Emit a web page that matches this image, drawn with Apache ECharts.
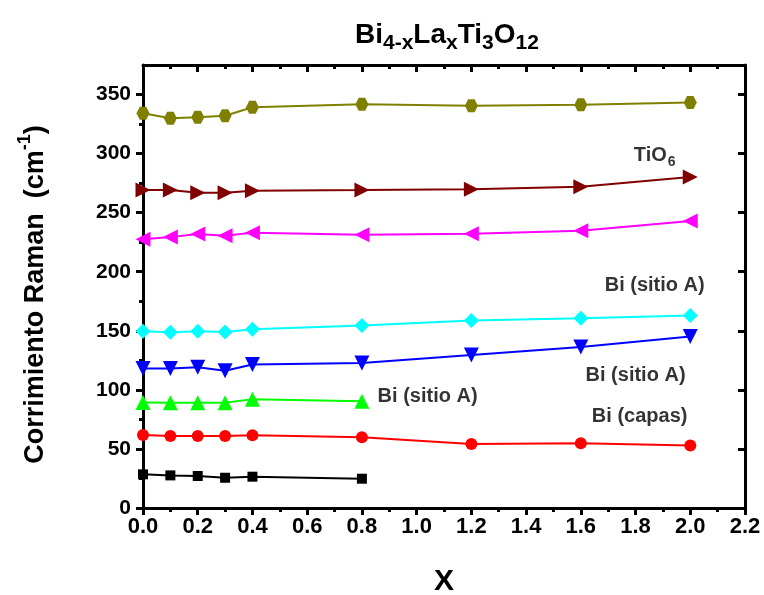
<!DOCTYPE html>
<html>
<head>
<meta charset="utf-8">
<script src="https://cdn.jsdelivr.net/npm/echarts@6/dist/echarts.min.js"></script>
<style>
  html, body { margin: 0; padding: 0; background: #ffffff; }
  #chart { width: 764px; height: 595px; }
</style>
</head>
<body>
<div id="chart"></div>
<script>
// La content x in Bi(4-x)La(x)Ti3O12
const xValues = [0, 0.1, 0.2, 0.3, 0.4, 0.8, 1.2, 1.6, 2.0];

// Raman shift of each mode (cm^-1)
const modeHigh    = [334.2, 329.9, 330.8, 332.0, 339.2, 341.8, 340.4, 341.3, 343.2];
const modeTiO6    = [269.1, 269.1, 266.9, 266.9, 268.6, 269.1, 269.9, 271.9, 280.1];
const modeMid     = [227.6, 229.3, 231.9, 230.5, 233.1, 231.4, 232.2, 234.7, 242.9];
const modeSiteA1  = [149.6, 148.8, 149.6, 149.0, 151.3, 154.4, 158.7, 160.6, 162.9];
const modeSiteA2  = [118.1, 118.1, 119.2, 116.1, 121.5, 122.8, 129.6, 136.3, 145.1];
const modeSiteA3  = [89.4, 89.2, 89.2, 89.2, 92.1, 90.4];
const modeLayers  = [61.7, 60.9, 60.9, 60.9, 61.5, 59.8, 54.1, 54.9, 53.0];
const modeLow     = [28.5, 27.6, 27.1, 25.6, 26.5, 24.8];

// Tick values of the shift axis
const yMajorTicks = [0, 50, 100, 150, 200, 250, 300, 350];
const yMinorTicks = [25, 75, 125, 175, 225, 275, 325];

// Mode assignments, placed in data coordinates
const noteText = ['{m|TiO}{s|6}', 'Bi (sitio A)', 'Bi (sitio A)', 'Bi (sitio A)', 'Bi (capas)'];
const noteX    = [1.87, 1.87, 1.80, 1.04, 1.815];
const noteY    = [298, 188.5, 112.4, 94.1, 77.2];

const FONT = '"Liberation Sans", Arial, sans-serif';

function pairs(ys) {
  return ys.map((y, i) => [xValues[i], y]);
}

const hexagon = 'path://M0,8.66 L5,0 L15,0 L20,8.66 L15,17.32 L5,17.32 Z';

function lineSeries(ys, color, symbol, size, rotate) {
  return {
    type: 'line',
    data: pairs(ys),
    xAxisIndex: 0,
    yAxisIndex: 0,
    symbol: symbol,
    symbolSize: size,
    symbolRotate: rotate || 0,
    showAllSymbol: true,
    itemStyle: { color: color, borderWidth: 0 },
    lineStyle: { color: color, width: 2 },
    emphasis: { disabled: true },
    z: 3
  };
}

const chart = echarts.init(document.getElementById('chart'), null, { renderer: 'canvas' });

const axisLine = { show: true, onZero: false, lineStyle: { color: '#000', width: 3 } };

chart.setOption({
  animation: false,
  backgroundColor: '#ffffff',
  title: {
    text: '{m|Bi}{s|4-x}{m|La}{s|x}{m|Ti}{s|3}{m|O}{s|12}',
    left: 350,
    top: 16,
    textStyle: {
      rich: {
        m: { fontFamily: FONT, fontWeight: 'bold', fontSize: 28, color: '#000', padding: [0, 0, 6, 0] },
        s: { fontFamily: FONT, fontWeight: 'bold', fontSize: 21, color: '#000', padding: [11, 0, 0, 0] }
      }
    }
  },
  grid: { left: 143, right: 19, top: 65, bottom: 87, containLabel: false, outerBoundsMode: 'none' },
  xAxis: [
    {
      type: 'value', position: 'bottom', min: 0, max: 2.2, interval: 0.2,
      axisLine: axisLine,
      axisTick: { show: true, inside: false, length: 7, lineStyle: { color: '#000', width: 3 } },
      minorTick: { show: true, splitNumber: 2, length: 4, lineStyle: { color: '#000', width: 3 } },
      splitLine: { show: false },
      axisLabel: {
        show: true, margin: 8, color: '#000', fontFamily: FONT, fontWeight: 'bold', fontSize: 22,
        formatter: v => v.toFixed(1)
      },
      name: 'X', nameLocation: 'middle', nameGap: 59,
      nameTextStyle: { fontFamily: FONT, fontWeight: 'bold', fontSize: 30, color: '#000' }
    },
    {
      type: 'value', position: 'top', min: 0, max: 2.2, interval: 0.2,
      axisLine: axisLine,
      axisTick: { show: true, inside: true, length: 7, lineStyle: { color: '#000', width: 3 } },
      minorTick: { show: true, splitNumber: 2, length: 4, lineStyle: { color: '#000', width: 3 } },
      splitLine: { show: false },
      axisLabel: { show: false }
    }
  ],
  yAxis: [
    {
      type: 'value', position: 'left', min: 0, max: 375,
      axisLine: axisLine,
      axisTick: { show: true, inside: false, length: 7, customValues: yMajorTicks, lineStyle: { color: '#000', width: 3 } },
      splitLine: { show: false },
      axisLabel: {
        show: true, margin: 12, customValues: yMajorTicks, color: '#000',
        fontFamily: FONT, fontWeight: 'bold', fontSize: 21
      },
      name: '{m|Corrimiento Raman  (cm}{p|-1}{m|)}',
      nameLocation: 'middle', nameRotate: 90, nameGap: 94,
      nameTextStyle: {
        padding: [0, 16, 0, 0],
        rich: {
          m: { fontFamily: FONT, fontWeight: 'bold', fontSize: 27, color: '#000', padding: [8, 0, 0, 0] },
          p: { fontFamily: FONT, fontWeight: 'bold', fontSize: 18, color: '#000', padding: [0, 0, 12, 0] }
        }
      }
    },
    {
      type: 'value', position: 'left', min: 0, max: 375,
      axisLine: { show: false },
      axisTick: { show: true, inside: false, length: 4, customValues: yMinorTicks, lineStyle: { color: '#000', width: 3 } },
      splitLine: { show: false },
      axisLabel: { show: false }
    },
    {
      type: 'value', position: 'right', min: 0, max: 375,
      axisLine: axisLine,
      axisTick: { show: true, inside: true, length: 7, customValues: yMajorTicks, lineStyle: { color: '#000', width: 3 } },
      splitLine: { show: false },
      axisLabel: { show: false }
    },
    {
      type: 'value', position: 'right', min: 0, max: 375,
      axisLine: { show: false },
      axisTick: { show: true, inside: true, length: 4, customValues: yMinorTicks, lineStyle: { color: '#000', width: 3 } },
      splitLine: { show: false },
      axisLabel: { show: false }
    }
  ],
  series: [
    lineSeries(modeHigh,   '#808000', hexagon,    13),
    lineSeries(modeTiO6,   '#800000', 'triangle', 15, -90),
    lineSeries(modeMid,    '#ff00ff', 'triangle', 15, 90),
    lineSeries(modeSiteA1, '#00ffff', 'diamond',  15),
    lineSeries(modeSiteA2, '#0000ff', 'triangle', 15, 180),
    lineSeries(modeSiteA3, '#00ff00', 'triangle', 15),
    lineSeries(modeLayers, '#ff0000', 'circle',   12),
    lineSeries(modeLow,    '#000000', 'rect',     10),
    {
      type: 'scatter',
      silent: true,
      symbolSize: 0,
      xAxisIndex: 0,
      yAxisIndex: 0,
      data: noteText.map((t, i) => ({ value: [noteX[i], noteY[i]], name: t })),
      label: {
        show: true,
        position: 'inside',
        color: '#000',
        formatter: p => p.name.startsWith('{') ? p.name : '{m|' + p.name + '}',
        rich: {
          m: { fontFamily: FONT, fontWeight: 'bold', fontSize: 20, color: '#000' },
          s: { fontFamily: FONT, fontWeight: 'bold', fontSize: 14, color: '#000', padding: [13, 0, 0, 1] }
        }
      },
      z: 4
    }
  ]
});
</script>
</body>
</html>
